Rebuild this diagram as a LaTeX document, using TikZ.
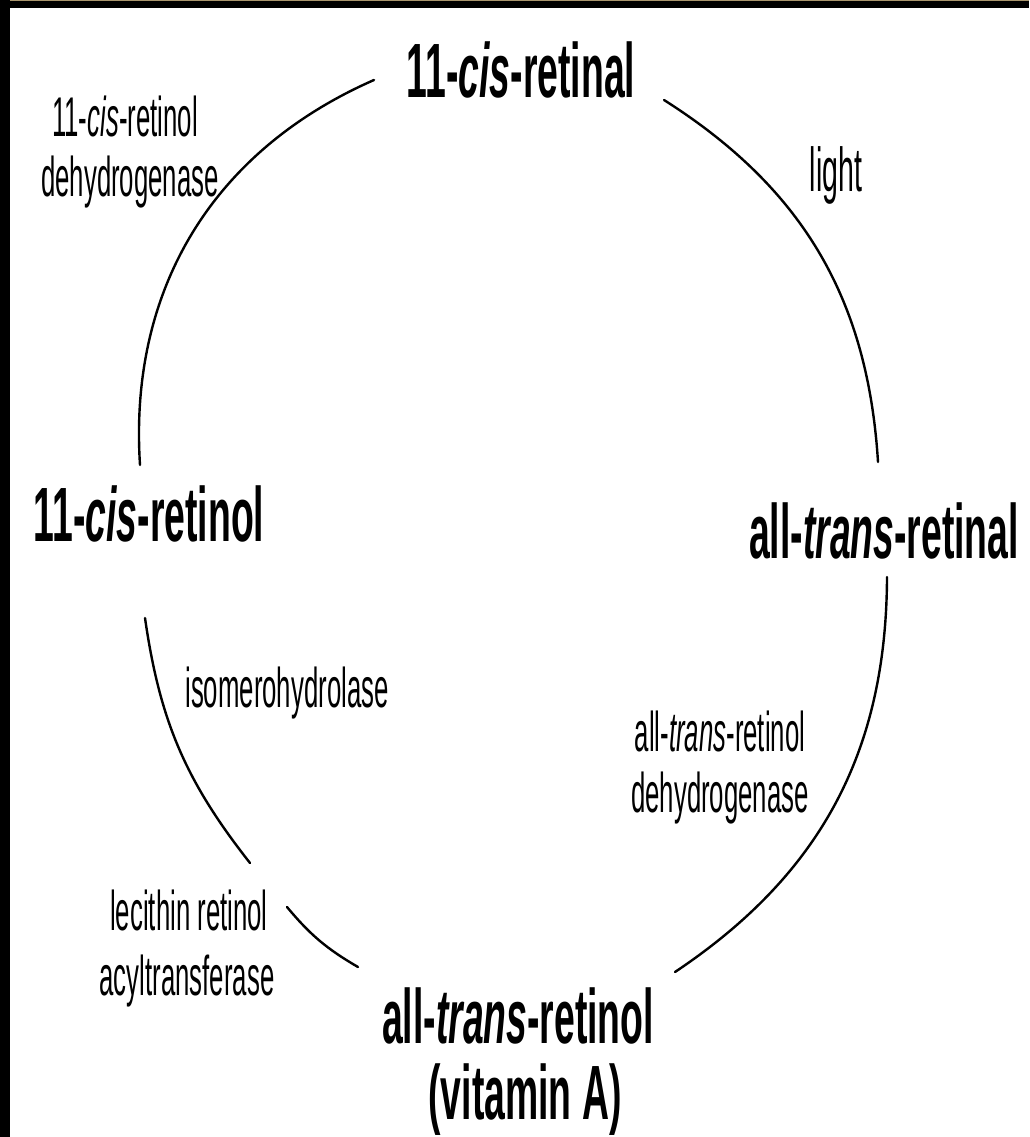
\documentclass[tikz,border=0pt]{standalone}
\usepackage{fontspec}
\newfontfamily\lblfont{Liberation Sans}[FakeStretch=0.485]
\newfontfamily\enzfont{Liberation Sans}[FakeStretch=0.46]
\definecolor{scantan}{RGB}{170,150,110}
\tikzset{
  mainlbl/.style={inner sep=0pt, anchor=base, font=\lblfont\bfseries\fontsize{57.75}{60}\selectfont},
  enzlbl/.style={inner sep=0pt, anchor=base, font=\enzfont\fontsize{42}{44}\selectfont},
  cyclearc/.style={line width=1.8pt, line cap=round, line join=round}
}
\begin{document}
\begin{tikzpicture}[x=0.75pt,y=-0.75pt]
\useasboundingbox (0,0) rectangle (1029,1137);
\fill[white] (0,0) rectangle (1029,1137);
\fill[black] (0,0) rectangle (1029,8);
\fill[scantan] (0,0) rectangle (1029,1.5);
\fill[black] (0,0) rectangle (10,1137);

% main compounds
\node[mainlbl] (cisal) at (521,98) {11-\textit{cis}-retinal};
\node[mainlbl] (cisol) at (149,541) {11-\textit{cis}-retinol};
\node[mainlbl] (tral) at (884,558) {all-\textit{trans}-retinal};
\node[mainlbl] (trol) at (518,1043) {all-\textit{trans}-retinol};
\node[mainlbl] (vita) at (525,1119) {(vitamin A)};

% enzymes
\node[enzlbl] (rdha) at (125,137) {11-\textit{cis}-retinol};
\node[enzlbl] (rdhb) at (130,197) {dehydrogenase};
\node[enzlbl, font=\enzfont\fontsize{46.5}{48}\selectfont] (light) at (836,192) {light};
\node[enzlbl] (iso) at (287,707) {isomerohydrolase};
\node[enzlbl] (rdhc) at (720,751) {all-\textit{trans}-retinol};
\node[enzlbl] (rdhd) at (720,812) {dehydrogenase};
\node[enzlbl] (lrata) at (189,930) {lecithin retinol};
\node[enzlbl] (lratb) at (187,995) {acyltransferase};

% arc end points
\coordinate (a1s) at (374,80);
\coordinate (a1e) at (140,465);
\coordinate (a2s) at (664,100);
\coordinate (a2e) at (878,462);
\coordinate (a3s) at (887,577);
\coordinate (a3e) at (675,972);
\coordinate (a4s) at (145,618);
\coordinate (a4e) at (250,863);
\coordinate (a5s) at (287,907);
\coordinate (a5e) at (358,967);

\draw[cyclearc] (a1s) to[bend right=35] (a1e);
\draw[cyclearc] (a2s) to[bend left=27] (a2e);
\draw[cyclearc] (a3s) to[bend left=28] (a3e);
\draw[cyclearc] (a4s) to[bend right=15] (a4e);
\draw[cyclearc] (a5s) to[bend right=10] (a5e);
\end{tikzpicture}
\end{document}
